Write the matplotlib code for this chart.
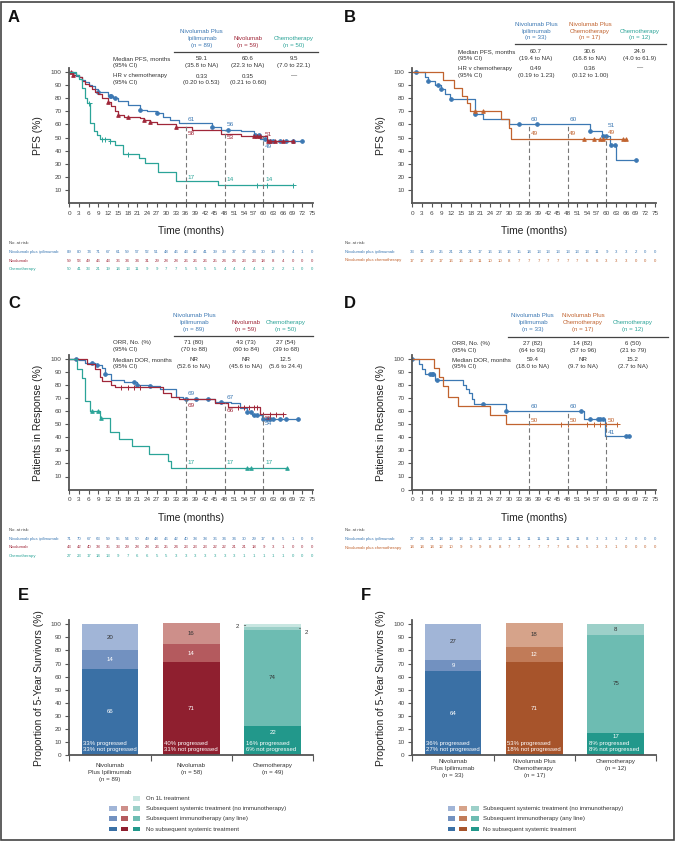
import numpy as np
import matplotlib
matplotlib.use('Agg')
import matplotlib.pyplot as plt
from matplotlib.patches import Rectangle
from matplotlib.transforms import blended_transform_factory

plt.rcParams['font.family'] = ['Liberation Sans', 'DejaVu Sans']

W, H = 675, 841

BLUE = '#3c78b3'
RED = '#a02739'
TEAL = '#2ba498'
ORANGE = '#c1632f'
AXC = '#555555'
TXT = '#333333'

months = list(range(0, 76, 3))
landmarks = [36, 48, 60]

# ---------------- panel A: PFS, all randomized ----------------
a_ipi_t = [0, 1, 2, 3, 4, 5, 6, 7, 8, 9, 12, 13.5, 15, 18, 22, 24, 27, 29, 31, 34, 44, 47, 53, 57, 59, 61]
a_ipi_s = [100, 99, 97, 96, 94, 92, 90, 89, 87, 85, 82, 80, 78, 75, 71, 70, 69, 66, 63, 61, 58, 56, 55, 52, 49, 47]
a_ipi_end = 72
a_ipi_cens = [9, 12.5, 13, 14, 22, 27, 44, 49, 57.5, 58.5, 60.5, 62, 63, 65, 67, 69, 72]
a_nivo_t = [0, 1, 3, 4, 5, 6, 7, 8, 9, 10, 12, 13, 14, 15, 17, 22, 23, 25, 27, 33, 38, 47, 53, 61]
a_nivo_s = [100, 98, 96, 93, 91, 89, 87, 85, 83, 80, 77, 74, 70, 67, 66, 65, 63, 62, 60, 58, 56, 53, 51, 47]
a_nivo_end = 69
a_nivo_cens = [0.5, 1, 12, 15, 18, 23, 25, 33, 57, 58, 59, 61.5, 62, 63.5, 66, 69]
a_chemo_t = [0, 2, 3, 4, 5, 5.5, 6.5, 7.5, 8.5, 9.5, 12.5, 14, 16.5, 21.5, 23.5, 27.5, 33, 46]
a_chemo_s = [100, 98, 95, 88, 80, 76, 61, 55, 52, 49, 47, 44, 37.5, 34, 30.5, 24, 17, 14]
a_chemo_end = 69
a_chemo_cens = [6, 10, 11, 12.5, 18, 58, 61, 69]
a_lab_ipi = [61, 56, 49]
a_lab_nivo = [58, 53, 51]
a_lab_chemo = [17, 14, 14]
a_heads = ['Nivolumab Plus\nIpilimumab\n(n = 89)', 'Nivolumab\n(n = 59)', 'Chemotherapy\n(n = 50)']
a_rowlab = [['Median PFS, months', '(95% CI)'], ['HR v chemotherapy', '(95% CI)']]
a_vals = [[['59.1', '(35.8 to NA)'], ['60.6', '(22.3 to NA)'], ['9.5', '(7.0 to 22.1)']],
          [['0.33', '(0.20 to 0.53)'], ['0.35', '(0.21 to 0.60)'], ['\u2014', '']]]
a_risk_ipi = [89, 80, 74, 71, 67, 61, 59, 57, 52, 51, 48, 46, 43, 42, 41, 39, 39, 37, 37, 34, 30, 19, 9, 4, 1, 0]
a_risk_nivo = [59, 53, 49, 46, 43, 36, 34, 34, 31, 29, 28, 28, 26, 26, 26, 25, 24, 24, 23, 23, 18, 8, 4, 0, 0, 0]
a_risk_chemo = [50, 41, 33, 21, 19, 14, 13, 11, 9, 9, 7, 7, 5, 5, 5, 5, 4, 4, 4, 4, 3, 2, 2, 1, 0, 0]

# ---------------- panel B: PFS, randomized 2:1 ----------------
b_ipi_t = [0, 3.9, 5, 7, 8.8, 10, 11.8, 19.3, 22, 30, 55, 58.5, 61, 63]
b_ipi_s = [100, 96, 93, 90, 87, 83, 79.5, 68, 64, 60, 55, 51, 44, 33]
b_ipi_end = 69
b_ipi_cens = [1, 5, 8, 9, 12, 19.5, 33, 38.5, 55, 59, 60, 61.5, 62.5, 69]
b_chemo_t = [0, 9.4, 13, 15.5, 17, 17.8, 27.5, 30, 30.5]
b_chemo_s = [100, 94, 88, 82, 76, 70, 64, 57, 49]
b_chemo_end = 66
b_chemo_cens = [19.5, 22, 53, 56, 58, 59, 65, 66]
b_lab_ipi = [60, 60, 51]
b_lab_chemo = [49, 49, 49]
b_heads = ['Nivolumab Plus\nIpilimumab\n(n = 33)', 'Nivolumab Plus\nChemotherapy\n(n = 17)', 'Chemotherapy\n(n = 12)']
b_rowlab = [['Median PFS, months', '(95% CI)'], ['HR v chemotherapy', '(95% CI)']]
b_vals = [[['60.7', '(19.4 to NA)'], ['30.6', '(16.8 to NA)'], ['24.9', '(4.0 to 61.9)']],
          [['0.49', '(0.19 to 1.23)'], ['0.36', '(0.12 to 1.00)'], ['\u2014', '']]]
b_risk_ipi = [33, 31, 29, 25, 21, 21, 21, 17, 16, 16, 16, 15, 14, 13, 13, 13, 13, 13, 13, 11, 9, 3, 3, 2, 0, 0]
b_risk_chemo = [17, 17, 17, 17, 16, 16, 13, 11, 10, 10, 8, 7, 7, 7, 7, 7, 7, 7, 6, 6, 3, 3, 3, 0, 0, 0]

# ---------------- panel C: DOR, all randomized ----------------
c_ipi_t = [0, 3, 5, 8, 10, 11, 13, 17, 21, 25, 28, 33, 35, 45, 50, 52.7, 55, 56.6, 59.6]
c_ipi_s = [100, 99, 97, 95, 93, 88, 84, 82, 80, 79, 77, 71, 69, 67, 66, 62, 59, 57, 54]
c_ipi_end = 70.7
c_ipi_cens = [2, 7, 8.5, 11, 20, 21, 25, 36, 39, 43, 47, 55, 56, 57, 58, 60, 61, 62, 63, 65, 67, 70.7]
c_nivo_t = [0, 5.5, 8, 9.5, 10, 13, 14, 29, 31.5, 34, 45, 49, 59]
c_nivo_s = [100, 96, 92, 86, 83, 80, 78, 74, 71, 69, 66, 63, 58]
c_nivo_end = 66
c_nivo_cens = [16, 18, 20, 22, 52, 54, 55.5, 57, 58, 60, 62, 64, 66]
c_chemo_t = [0, 2.5, 4, 5, 6.4, 9.5, 12.5, 15.5, 19.5, 24.5, 30.5, 31.5]
c_chemo_s = [100, 92, 85, 68, 60, 55, 44, 38.5, 33, 27.5, 22, 16.5]
c_chemo_end = 67.4
c_chemo_cens = [7, 9, 9.8, 55, 56, 67.4]
c_lab_ipi = [69, 67, 54]
c_lab_nivo = [69, 66, 58]
c_lab_chemo = [17, 17, 17]
c_heads = ['Nivolumab Plus\nIpilimumab\n(n = 89)', 'Nivolumab\n(n = 59)', 'Chemotherapy\n(n = 50)']
c_rowlab = [['ORR, No. (%)', '(95% CI)'], ['Median DOR, months', '(95% CI)']]
c_vals = [[['71 (80)', '(70 to 88)'], ['43 (73)', '(60 to 84)'], ['27 (54)', '(39 to 68)']],
          [['NR', '(52.6 to NA)'], ['NR', '(45.6 to NA)'], ['12.5', '(5.6 to 24.4)']]]
c_risk_ipi = [71, 70, 67, 63, 59, 55, 54, 50, 49, 48, 46, 42, 40, 38, 38, 36, 34, 34, 30, 29, 17, 8, 5, 1, 0, 0]
c_risk_nivo = [43, 42, 40, 38, 35, 33, 29, 28, 28, 26, 25, 24, 23, 23, 23, 22, 22, 21, 21, 18, 9, 3, 1, 0, 0, 0]
c_risk_chemo = [27, 23, 17, 14, 13, 9, 7, 6, 6, 5, 5, 3, 3, 3, 3, 3, 3, 3, 1, 1, 1, 1, 1, 0, 0, 0]

# ---------------- panel D: DOR, randomized 2:1 ----------------
d_ipi_t = [0, 2, 3, 4, 7, 15.7, 16.5, 17.5, 18.5, 19, 29, 53, 59.5]
d_ipi_s = [100, 96, 92, 88, 84, 80, 77, 74, 69, 65, 60, 54, 41]
d_ipi_end = 67
d_ipi_cens = [0, 5.5, 6, 6.5, 7.5, 22, 29, 52, 55, 57.5, 58, 59, 66, 67]
d_chemo_t = [0, 6.8, 8.3, 9.5, 11, 14, 24, 29]
d_chemo_s = [100, 93, 86, 79, 71, 64, 57, 50]
d_chemo_end = 63.3
d_chemo_cens = [46, 48, 54, 56, 58, 60, 63.3]
d_lab_ipi = [60, 60, 41]
d_lab_chemo = [50, 50, 50]
d_heads = ['Nivolumab Plus\nIpilimumab\n(n = 33)', 'Nivolumab Plus\nChemotherapy\n(n = 17)', 'Chemotherapy\n(n = 12)']
d_rowlab = [['ORR, No. (%)', '(95% CI)'], ['Median DOR, months', '(95% CI)']]
d_vals = [[['27 (82)', '(64 to 93)'], ['14 (82)', '(57 to 96)'], ['6 (50)', '(21 to 79)']],
          [['59.4', '(18.0 to NA)'], ['NR', '(9.7 to NA)'], ['15.2', '(2.7 to NA)']]]
d_risk_ipi = [27, 24, 21, 18, 18, 18, 15, 14, 13, 13, 11, 11, 11, 11, 11, 11, 11, 11, 8, 3, 3, 3, 2, 0, 0, 0]
d_risk_chemo = [14, 14, 14, 12, 10, 9, 9, 9, 8, 8, 7, 7, 7, 7, 7, 7, 6, 6, 5, 3, 3, 1, 0, 0, 0, 0]

# ---------------- panels E / F: 5-year survivors ----------------
e_cats = ['Nivolumab\nPlus Ipilimumab\n(n = 89)', 'Nivolumab\n(n = 58)', 'Chemotherapy\n(n = 49)']
e_none = [66, 71, 22]
e_io = [14, 14, 74]
e_sys = [20, 16, 2]
e_first = [0, 0, 2]
e_prog = ['33% progressed\n33% not progressed', '40% progressed\n31% not progressed', '16% progressed\n6% not progressed']

f_cats = ['Nivolumab\nPlus Ipilimumab\n(n = 33)', 'Nivolumab Plus\nChemotherapy\n(n = 17)', 'Chemotherapy\n(n = 12)']
f_none = [64, 71, 17]
f_io = [9, 12, 75]
f_sys = [27, 18, 8]
f_prog = ['36% progressed\n27% not progressed', '53% progressed\n18% not progressed', '8% progressed\n8% not progressed']

bar_cols_e = [['#3a70a5', '#7291c0', '#a1b5d7'], ['#8f1f2f', '#b45a5e', '#cd8f8a'], ['#22988b', '#6dbcb2', '#9dd0c9']]
bar_cols_f = [['#3a70a5', '#7291c0', '#a1b5d7'], ['#a7542b', '#c17b58', '#d6a38a'], ['#22988b', '#6dbcb2', '#9dd0c9']]
FIRST_COL = '#c8e6e1'

legend_lab = ['Subsequent systemic treatment (no immunotherapy)', 'Subsequent immunotherapy (any line)',
              'No subsequent systemic treatment']

FS_TAB = 4.4
FS_TICK = 4.6
FS_RISK = 3.1
FS_AXL = 7.4
FS_BAR = 4.4

fig = plt.figure(figsize=(W / 100, H / 100), dpi=100)
fig.add_artist(Rectangle((0.001, 0.001), 0.997, 0.997, transform=fig.transFigure,
                         fill=False, edgecolor='#444444', lw=1.2))


def fx(px):
    return px / W


def fy(py):
    return 1 - py / H


def ftext(px, py, s, **kw):
    return fig.text(fx(px), fy(py), s, **kw)


def add_ax(left, top, right, bottom):
    return fig.add_axes([fx(left), fy(bottom), (right - left) / W, (bottom - top) / H])


def surv_at(t, times, vals):
    i = np.searchsorted(times, t, side='right') - 1
    return vals[max(i, 0)]


def style_ax(ax):
    for s in ['top', 'right']:
        ax.spines[s].set_visible(False)
    for s in ['left', 'bottom']:
        ax.spines[s].set_color(AXC)
        ax.spines[s].set_linewidth(1.3)
    ax.tick_params(colors=AXC, labelcolor='#444444', labelsize=FS_TICK, width=0.8, length=3, pad=2.5)


def km_panel(left, bottom, curves, labels, dys, zero_tick):
    top = bottom - 103 * 1.31
    ax = add_ax(left, top, left + 244, bottom)
    style_ax(ax)
    ax.set_xlim(0, 75.4)
    ax.set_ylim(0, 103)
    ax.set_xticks(months)
    ax.set_yticks(list(range(0 if zero_tick else 10, 101, 10)))
    for t, s, end, col, cens, mk in curves:
        ax.step(list(t) + [end], list(s) + [s[-1]], where='post', color=col, lw=0.9)
        cy = [surv_at(c, t, s) for c in cens]
        ax.plot(cens, cy, ls='none', marker=mk, color=col, ms=2.6 if mk != '+' else 3.6,
                mew=0.7, mfc=col)
    for lm in landmarks:
        ymax = max(surv_at(lm, c[0], c[1]) for c in curves)
        ax.plot([lm, lm], [0, ymax], color='#777777', ls=(0, (4, 2.5)), lw=0.8)
    for (vals, col), dy in zip(labels, dys):
        for lm, v, d in zip(landmarks, vals, dy):
            ax.text(lm + 0.5, v + d, str(v), color=col, fontsize=FS_TICK, ha='left', va='center')
    return ax


def risk_table(ax, y0, rows):
    tr = blended_transform_factory(ax.transData, fig.transFigure)
    lx = 9 if ax.get_position().x0 < 0.4 else 345
    ftext(lx, y0, 'No. at risk:', fontsize=FS_RISK, color='#444444', va='center')
    for i, (name, vals, col) in enumerate(rows):
        yy = y0 + 8.9 + 8.6 * i
        ftext(lx, yy, name, fontsize=FS_RISK, color=col, va='center')
        for m, v in zip(months, vals):
            ax.text(m, fy(yy), str(v), transform=tr, fontsize=FS_RISK, color=col, ha='center', va='center')


def stats_table(cols_x, heads, head_cols, head_y, line_y, lx0, lx1, lab_x, rowlab, vals, row_y):
    for x, h, c in zip(cols_x, heads, head_cols):
        lines = h.split('\n')
        for k, ln in enumerate(reversed(lines)):
            ftext(x, head_y - 6.7 * k, ln, fontsize=FS_TAB, color=c, ha='center', va='center')
    fig.add_artist(plt.Line2D([fx(lx0), fx(lx1)], [fy(line_y), fy(line_y)], color='#444444', lw=0.9,
                              transform=fig.transFigure))
    for r, (lab, yy) in enumerate(zip(rowlab, row_y)):
        ftext(lab_x, yy, lab[0], fontsize=FS_TAB, color=TXT, va='center')
        ftext(lab_x, yy + 6.8, lab[1], fontsize=FS_TAB, color=TXT, va='center')
        for x, v in zip(cols_x, vals[r]):
            ftext(x, yy, v[0], fontsize=FS_TAB, color=TXT, ha='center', va='center')
            ftext(x, yy + 6.8, v[1], fontsize=FS_TAB, color=TXT, ha='center', va='center')


def bar_panel(left, cats, none, io, sysx, cols, prog, first=None):
    ax = add_ax(left, 620, left + 244, 755)
    style_ax(ax)
    ax.set_xlim(-0.5, 2.5)
    ax.set_ylim(0, 103.3)
    ax.set_yticks(range(0, 101, 10))
    ax.set_xticks([-0.5, 0.5, 1.5, 2.5])
    ax.set_xticklabels([])
    ax.tick_params(axis='x', length=4)
    x = np.arange(3)
    for i in range(3):
        segs = [none[i], io[i], sysx[i]]
        b = 0
        for j, v in enumerate(segs):
            ax.bar(x[i], v, 0.7, bottom=b, color=cols[i][j], lw=0)
            if v >= 5:
                yy = b + v / 2 if (v >= 30 or j > 0) else (b + v + 12) / 2
                tc = 'white' if (j == 0 or (j == 1 and i < 2)) else TXT
                ax.text(x[i], yy, str(v), color=tc, fontsize=FS_BAR, ha='center', va='center')
            b += v
        if first is not None and first[i] > 0:
            ax.bar(x[i], first[i], 0.7, bottom=b, color=FIRST_COL, lw=0)
        ax.text(x[i] - 0.33, 6.4, prog[i], color='white', fontsize=4.3, ha='left', va='center',
                linespacing=1.15)
    return ax, x


# ---- KM panels ----
axA = km_panel(69.3, 203, [(a_ipi_t, a_ipi_s, a_ipi_end, BLUE, a_ipi_cens, 'o'),
                           (a_nivo_t, a_nivo_s, a_nivo_end, RED, a_nivo_cens, '^'),
                           (a_chemo_t, a_chemo_s, a_chemo_end, TEAL, a_chemo_cens, '+')],
               [(a_lab_ipi, BLUE), (a_lab_nivo, RED), (a_lab_chemo, TEAL)],
               [[2.5, 4, -6], [-5, -3, 1], [2.6, 3.6, 3.6]], False)
axB = km_panel(412.3, 203, [(b_ipi_t, b_ipi_s, b_ipi_end, BLUE, b_ipi_cens, 'o'),
                            (b_chemo_t, b_chemo_s, b_chemo_end, ORANGE, b_chemo_cens, '^')],
               [(b_lab_ipi, BLUE), (b_lab_chemo, ORANGE)],
               [[4, 4, 8.5], [4, 4, 4.5]], False)
axC = km_panel(69.3, 489.6, [(c_ipi_t, c_ipi_s, c_ipi_end, BLUE, c_ipi_cens, 'o'),
                             (c_nivo_t, c_nivo_s, c_nivo_end, RED, c_nivo_cens, '+'),
                             (c_chemo_t, c_chemo_s, c_chemo_end, TEAL, c_chemo_cens, '^')],
               [(c_lab_ipi, BLUE), (c_lab_nivo, RED), (c_lab_chemo, TEAL)],
               [[4.6, 3.4, -3.5], [-4.6, -5.4, -3.6], [3.5, 3.5, 3.5]], False)
axD = km_panel(412.3, 489.6, [(d_ipi_t, d_ipi_s, d_ipi_end, BLUE, d_ipi_cens, 'o'),
                              (d_chemo_t, d_chemo_s, d_chemo_end, ORANGE, d_chemo_cens, '+')],
               [(d_lab_ipi, BLUE), (d_lab_chemo, ORANGE)],
               [[3.7, 3.7, 2.3], [3, 3, 3]], True)

for ax, yl, ybot in [(axA, 'PFS (%)', 203), (axB, 'PFS (%)', 203),
                     (axC, 'Patients in Response (%)', 489.6), (axD, 'Patients in Response (%)', 489.6)]:
    x0 = ax.get_position().x0 * W
    ftext(x0 + 122, ybot + 28, 'Time (months)', fontsize=FS_AXL, color='#222222', ha='center', va='center')
    ftext(x0 - 31, ybot - 67, yl, fontsize=FS_AXL, color='#222222', ha='center', va='center', rotation=90)

risk_table(axA, 243, [('Nivolumab plus ipilimumab', a_risk_ipi, BLUE), ('Nivolumab', a_risk_nivo, RED),
                      ('Chemotherapy', a_risk_chemo, TEAL)])
risk_table(axB, 243, [('Nivolumab plus ipilimumab', b_risk_ipi, BLUE),
                      ('Nivolumab plus chemotherapy', b_risk_chemo, ORANGE)])
risk_table(axC, 530, [('Nivolumab plus ipilimumab', c_risk_ipi, BLUE), ('Nivolumab', c_risk_nivo, RED),
                      ('Chemotherapy', c_risk_chemo, TEAL)])
risk_table(axD, 530, [('Nivolumab plus ipilimumab', d_risk_ipi, BLUE),
                      ('Nivolumab plus chemotherapy', d_risk_chemo, ORANGE)])

stats_table([201.7, 248, 294], a_heads, [BLUE, RED, TEAL], 45, 52, 174, 318, 113, a_rowlab, a_vals, [58.7, 76])
stats_table([536, 590, 640], b_heads, [BLUE, ORANGE, TEAL], 38, 44.3, 515, 666, 458, b_rowlab, b_vals, [51.7, 68.3])
stats_table([194, 246, 286], c_heads, [BLUE, RED, TEAL], 329, 336, 174, 313, 113, c_rowlab, c_vals, [342.7, 359.3])
stats_table([532.7, 583, 632.7], d_heads, [BLUE, ORANGE, TEAL], 329, 336.7, 507.7, 668, 452.3, d_rowlab, d_vals,
            [343.3, 359.3])

# ---- bar panels ----
axE, xe = bar_panel(69.3, e_cats, e_none, e_io, e_sys, bar_cols_e, e_prog, e_first)
axF, xf = bar_panel(412.3, f_cats, f_none, f_io, f_sys, bar_cols_f, f_prog)

top_io = e_none[2] + e_io[2]
axE.annotate(str(e_first[2]), xy=(xe[2] - 0.33, top_io + e_sys[2] + e_first[2] / 2),
             xytext=(xe[2] - 0.43, top_io + e_sys[2] + 0.5), fontsize=FS_BAR, color=TXT, ha='center',
             va='center', arrowprops=dict(arrowstyle='-', color='#444444', lw=0.5, shrinkA=1.5, shrinkB=0))
axE.annotate(str(e_sys[2]), xy=(xe[2] + 0.33, top_io + e_sys[2] / 2),
             xytext=(xe[2] + 0.42, top_io - 2), fontsize=FS_BAR, color=TXT, ha='center', va='center',
             arrowprops=dict(arrowstyle='-', color='#444444', lw=0.5, shrinkA=1.5, shrinkB=0))

for left, cats, cy in [(69.3, e_cats, 765.7), (412.3, f_cats, 761.7)]:
    for i, c in enumerate(cats):
        for k, ln in enumerate(c.split('\n')):
            ftext(left + 81.3 * (i + 0.5), cy + 6.7 * k, ln, fontsize=4.4, color=TXT, ha='center', va='center')

ftext(39.3, 688, 'Proportion of 5-Year Survivors (%)', fontsize=FS_AXL, color='#222222', ha='center',
      va='center', rotation=90)
ftext(381, 688, 'Proportion of 5-Year Survivors (%)', fontsize=FS_AXL, color='#222222', ha='center',
      va='center', rotation=90)


# legends
def sq(px, py, col):
    fig.add_artist(Rectangle((fx(px), fy(py + 2.2)), 7.5 / W, 4.4 / H, transform=fig.transFigure,
                             color=col, lw=0))


sq(132.7, 798.3, FIRST_COL)
ftext(145.7, 798.3, 'On 1L treatment', fontsize=4.3, color=TXT, va='center')
for r, yy in enumerate([808.3, 818.3, 829]):
    j = 2 - r
    for k, xx in enumerate([109.3, 120.7, 132.7]):
        sq(xx, yy, bar_cols_e[k][j])
    ftext(145.7, yy, legend_lab[r], fontsize=4.3, color=TXT, va='center')
    for k, xx in enumerate([447.7, 459, 471]):
        sq(xx, yy, bar_cols_f[k][j])
    ftext(483.3, yy, legend_lab[r], fontsize=4.3, color=TXT, va='center')

# panel letters
for s, px, py in [('A', 14, 18), ('B', 350, 18), ('C', 14, 304), ('D', 350, 304), ('E', 23, 595), ('F', 366, 595)]:
    ftext(px, py, s, fontsize=12, fontweight='bold', color='#111111', ha='center', va='center')

fig.savefig('out.png', dpi=100)
